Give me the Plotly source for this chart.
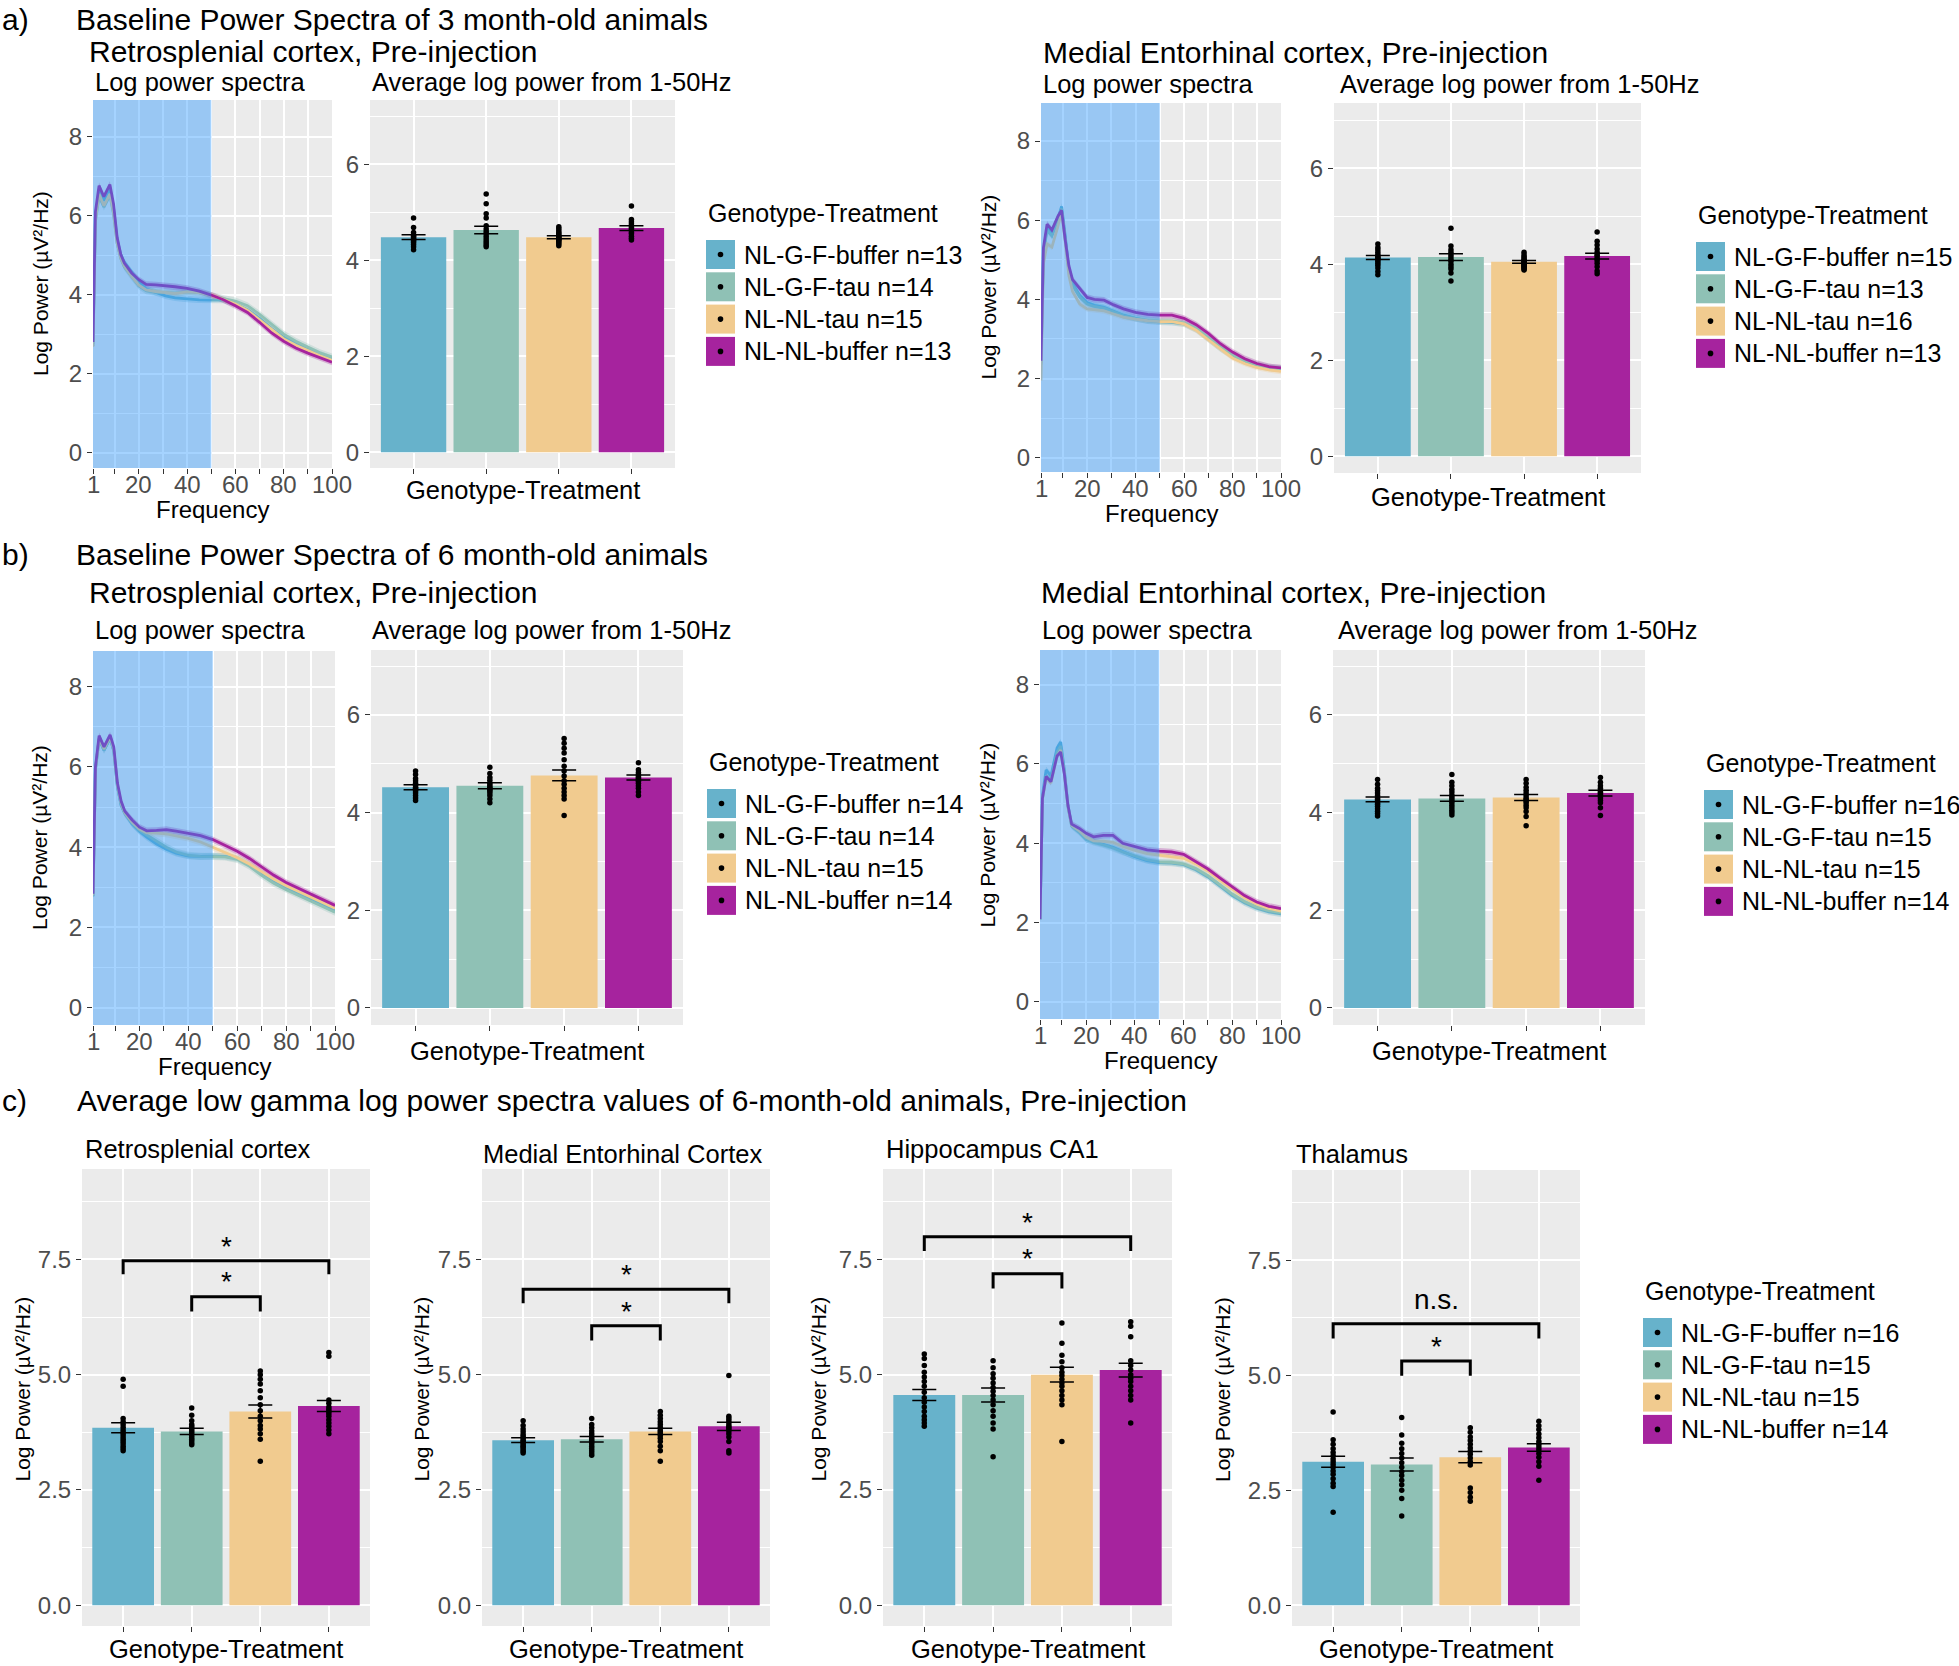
import plotly.graph_objects as go

W, H = 1959, 1666
FONT = "Liberation Sans, Arial, Helvetica, sans-serif"

# ---------------- data ----------------
GROUPS = ["NL-G-F-buffer", "NL-G-F-tau", "NL-NL-tau", "NL-NL-buffer"]
COLORS = ["#67B2CB", "#8FC1B5", "#F1CB8F", "#A6239E"]

FREQ = [1, 2, 3.5, 5.5, 8, 9.5, 11, 12.5, 14, 17, 20, 23, 27, 31, 35, 40, 45, 50,
        55, 60, 65, 70, 75, 80, 85, 90, 95, 100]
FREQ_TICKS = [1, 10, 20, 30, 40, 50, 60, 70, 80, 90, 100]
FREQ_LABELS = ["1", "", "20", "", "40", "", "60", "", "80", "", "100"]

# 3-month Retrosplenial spectra (order: GROUPS)
A_RSC_BUF_GF = [2.75, 6.0, 6.62, 6.38, 6.68, 6.2, 5.4, 5.02, 4.82, 4.58, 4.33, 4.15, 4.05, 3.97, 3.92, 3.89, 3.87, 3.86,
                3.86, 3.76, 3.62, 3.4, 3.14, 2.92, 2.76, 2.62, 2.49, 2.38]
A_RSC_TAU_GF = [2.7, 5.85, 6.5, 6.22, 6.52, 6.05, 5.3, 4.92, 4.7, 4.45, 4.22, 4.1, 4.06, 4.05, 4.04, 4.07, 4.05, 3.98,
                3.9, 3.84, 3.72, 3.5, 3.24, 3.0, 2.82, 2.67, 2.53, 2.42]
A_RSC_TAU_NL = [2.68, 5.88, 6.55, 6.25, 6.55, 6.08, 5.3, 4.92, 4.72, 4.46, 4.24, 4.12, 4.08, 4.05, 4.03, 4.07, 4.05, 3.99,
                3.88, 3.76, 3.6, 3.36, 3.1, 2.88, 2.72, 2.58, 2.45, 2.34]
A_RSC_BUF_NL = [2.8, 6.1, 6.76, 6.48, 6.79, 6.3, 5.45, 5.02, 4.8, 4.55, 4.38, 4.26, 4.25, 4.23, 4.2, 4.16, 4.09, 3.99,
                3.87, 3.72, 3.55, 3.3, 3.03, 2.82, 2.65, 2.52, 2.4, 2.29]
A_RSC_SPEC_SE = [0.08, 0.09, 0.07, 0.08]

# 3-month Medial Entorhinal spectra
A_ME_BUF_GF = [2.4, 5.2, 5.8, 5.65, 6.05, 6.35, 5.6, 4.75, 4.4, 4.1, 3.92, 3.85, 3.8, 3.7, 3.6, 3.52, 3.46, 3.43,
               3.42, 3.38, 3.24, 3.0, 2.76, 2.56, 2.42, 2.32, 2.27, 2.24]
A_ME_TAU_GF = [2.35, 5.15, 5.75, 5.6, 6.0, 6.3, 5.55, 4.72, 4.36, 4.06, 3.88, 3.82, 3.78, 3.68, 3.59, 3.52, 3.47, 3.45,
               3.45, 3.41, 3.27, 3.04, 2.8, 2.6, 2.46, 2.36, 2.29, 2.26]
A_ME_TAU_NL = [1.95, 4.9, 5.4, 5.32, 5.85, 6.2, 5.45, 4.6, 4.2, 3.88, 3.76, 3.74, 3.71, 3.63, 3.55, 3.5, 3.46, 3.44,
               3.44, 3.38, 3.22, 2.98, 2.74, 2.52, 2.38, 2.28, 2.22, 2.18]
A_ME_BUF_NL = [2.45, 5.3, 5.9, 5.75, 6.1, 6.25, 5.5, 4.85, 4.5, 4.28, 4.05, 4.0, 3.98, 3.86, 3.76, 3.67, 3.62, 3.6,
               3.6, 3.52, 3.36, 3.14, 2.88, 2.67, 2.5, 2.38, 2.3, 2.27]
A_ME_SPEC_SE = [0.08, 0.08, 0.07, 0.08]

# 6-month Retrosplenial spectra
B_RSC_BUF_GF = [2.78, 5.95, 6.7, 6.42, 6.72, 6.4, 5.5, 5.05, 4.85, 4.58, 4.4, 4.25, 4.08, 3.95, 3.85, 3.78, 3.77, 3.78,
                3.77, 3.72, 3.56, 3.34, 3.14, 2.98, 2.85, 2.72, 2.58, 2.43]
B_RSC_TAU_GF = [2.78, 5.92, 6.7, 6.42, 6.72, 6.4, 5.52, 5.05, 4.84, 4.6, 4.42, 4.3, 4.15, 4.0, 3.88, 3.8, 3.77, 3.77,
                3.76, 3.7, 3.53, 3.3, 3.1, 2.94, 2.8, 2.66, 2.52, 2.38]
B_RSC_TAU_NL = [2.8, 5.95, 6.72, 6.45, 6.75, 6.45, 5.55, 5.1, 4.86, 4.62, 4.45, 4.36, 4.35, 4.33, 4.28, 4.22, 4.13, 4.0,
                3.85, 3.74, 3.58, 3.38, 3.2, 3.04, 2.9, 2.76, 2.62, 2.48]
B_RSC_BUF_NL = [2.84, 6.0, 6.78, 6.5, 6.8, 6.5, 5.6, 5.15, 4.9, 4.68, 4.5, 4.41, 4.42, 4.44, 4.4, 4.35, 4.29, 4.19,
                4.04, 3.9, 3.72, 3.5, 3.3, 3.12, 2.98, 2.84, 2.7, 2.55]
B_RSC_SPEC_SE = [0.08, 0.09, 0.08, 0.08]

# 6-month Medial Entorhinal spectra
B_ME_BUF_GF = [2.07, 5.2, 5.85, 5.7, 6.4, 6.55, 5.85, 4.95, 4.45, 4.3, 4.1, 4.04, 3.98, 3.9, 3.79, 3.66, 3.56, 3.51,
               3.5, 3.46, 3.33, 3.15, 2.92, 2.68, 2.5, 2.36, 2.27, 2.22]
B_ME_TAU_GF = [2.07, 5.12, 5.7, 5.58, 6.3, 6.45, 5.8, 4.92, 4.43, 4.28, 4.1, 4.02, 3.96, 3.88, 3.78, 3.67, 3.58, 3.53,
               3.52, 3.48, 3.36, 3.18, 2.95, 2.72, 2.53, 2.39, 2.3, 2.25]
B_ME_TAU_NL = [2.08, 5.1, 5.65, 5.52, 6.2, 6.35, 5.75, 4.92, 4.45, 4.32, 4.15, 4.06, 4.05, 4.02, 3.92, 3.82, 3.74, 3.7,
               3.67, 3.62, 3.48, 3.3, 3.06, 2.84, 2.63, 2.47, 2.36, 2.29]
B_ME_BUF_NL = [2.09, 5.13, 5.68, 5.55, 6.2, 6.3, 5.75, 4.95, 4.48, 4.38, 4.25, 4.16, 4.2, 4.2, 4.0, 3.91, 3.83, 3.8,
               3.78, 3.72, 3.54, 3.35, 3.12, 2.9, 2.68, 2.52, 2.41, 2.35]
B_ME_SPEC_SE = [0.08, 0.08, 0.07, 0.08]

# Average log power 1-50 Hz bars
A_RSC_N = [13, 14, 15, 13]
A_RSC_MEAN = [4.48, 4.63, 4.48, 4.67]
A_RSC_SEM = [0.05, 0.08, 0.03, 0.05]
A_RSC_PTS = [
    [4.88, 4.68, 4.58, 4.52, 4.5, 4.47, 4.45, 4.42, 4.4, 4.37, 4.33, 4.28, 4.22],
    [5.38, 5.18, 4.97, 4.88, 4.72, 4.65, 4.6, 4.55, 4.5, 4.45, 4.4, 4.36, 4.32, 4.28],
    [4.7, 4.66, 4.62, 4.58, 4.55, 4.52, 4.5, 4.48, 4.46, 4.44, 4.42, 4.4, 4.37, 4.34, 4.3],
    [5.13, 4.85, 4.8, 4.76, 4.72, 4.68, 4.65, 4.62, 4.58, 4.55, 4.5, 4.46, 4.42],
]
A_ME_N = [15, 13, 16, 13]
A_ME_MEAN = [4.14, 4.15, 4.05, 4.17]
A_ME_SEM = [0.04, 0.07, 0.03, 0.06]
A_ME_PTS = [
    [4.42, 4.35, 4.3, 4.25, 4.2, 4.17, 4.14, 4.12, 4.1, 4.06, 4.02, 3.98, 3.92, 3.85, 3.78],
    [4.75, 4.38, 4.3, 4.25, 4.2, 4.15, 4.1, 4.06, 4.0, 3.95, 3.9, 3.82, 3.65],
    [4.25, 4.2, 4.16, 4.13, 4.1, 4.08, 4.06, 4.04, 4.02, 4.0, 3.98, 3.96, 3.94, 3.92, 3.9, 3.88],
    [4.67, 4.48, 4.4, 4.32, 4.25, 4.2, 4.17, 4.12, 4.08, 4.02, 3.95, 3.86, 3.8],
]
B_RSC_N = [14, 14, 15, 14]
B_RSC_MEAN = [4.52, 4.55, 4.76, 4.72]
B_RSC_SEM = [0.05, 0.06, 0.11, 0.05]
B_RSC_PTS = [
    [4.85, 4.78, 4.7, 4.65, 4.6, 4.56, 4.52, 4.5, 4.47, 4.44, 4.4, 4.35, 4.3, 4.25],
    [4.93, 4.8, 4.72, 4.66, 4.6, 4.56, 4.52, 4.5, 4.47, 4.44, 4.4, 4.35, 4.28, 4.2],
    [5.52, 5.42, 5.32, 5.22, 5.08, 4.95, 4.85, 4.75, 4.65, 4.58, 4.5, 4.42, 4.35, 4.28, 3.94],
    [5.02, 4.88, 4.82, 4.78, 4.75, 4.72, 4.7, 4.67, 4.64, 4.6, 4.55, 4.5, 4.42, 4.35],
]
B_ME_N = [16, 15, 15, 14]
B_ME_MEAN = [4.27, 4.29, 4.31, 4.40]
B_ME_SEM = [0.05, 0.06, 0.06, 0.06]
B_ME_PTS = [
    [4.68, 4.58, 4.5, 4.45, 4.4, 4.35, 4.3, 4.27, 4.24, 4.2, 4.17, 4.13, 4.08, 4.03, 3.98, 3.93],
    [4.78, 4.62, 4.55, 4.48, 4.42, 4.36, 4.32, 4.28, 4.24, 4.2, 4.15, 4.1, 4.05, 4.0, 3.95],
    [4.68, 4.6, 4.52, 4.46, 4.4, 4.35, 4.3, 4.27, 4.24, 4.2, 4.15, 4.1, 4.02, 3.92, 3.73],
    [4.72, 4.62, 4.55, 4.5, 4.46, 4.42, 4.4, 4.37, 4.34, 4.3, 4.25, 4.2, 4.1, 3.94],
]

# Low gamma, 6 months
C_N = [16, 15, 15, 14]
C_RSC_MEAN = [3.85, 3.77, 4.20, 4.32]
C_RSC_SEM = [0.11, 0.07, 0.14, 0.12]
C_RSC_PTS = [
    [4.9, 4.75, 4.05, 3.98, 3.92, 3.86, 3.8, 3.75, 3.7, 3.65, 3.6, 3.55, 3.5, 3.45, 3.4, 3.35],
    [4.28, 4.12, 4.0, 3.92, 3.88, 3.84, 3.8, 3.76, 3.72, 3.68, 3.64, 3.6, 3.56, 3.52, 3.48],
    [5.08, 5.0, 4.9, 4.8, 4.65, 4.5, 4.35, 4.22, 4.1, 4.0, 3.9, 3.82, 3.72, 3.6, 3.12],
    [5.48, 5.4, 4.45, 4.38, 4.3, 4.25, 4.2, 4.15, 4.1, 4.02, 3.95, 3.88, 3.8, 3.72],
]
C_ME_MEAN = [3.58, 3.60, 3.77, 3.88]
C_ME_SEM = [0.05, 0.06, 0.07, 0.09]
C_ME_PTS = [
    [4.0, 3.9, 3.82, 3.76, 3.7, 3.66, 3.62, 3.58, 3.55, 3.52, 3.48, 3.45, 3.42, 3.38, 3.34, 3.3],
    [4.05, 3.92, 3.85, 3.78, 3.72, 3.67, 3.62, 3.58, 3.54, 3.5, 3.45, 3.4, 3.35, 3.3, 3.25],
    [4.2, 4.12, 4.05, 3.98, 3.92, 3.86, 3.8, 3.76, 3.72, 3.68, 3.62, 3.55, 3.45, 3.35, 3.12],
    [4.98, 4.1, 4.05, 4.0, 3.95, 3.9, 3.86, 3.82, 3.78, 3.72, 3.65, 3.55, 3.35, 3.3],
]
C_CA1_MEAN = [4.56, 4.56, 5.00, 5.10]
C_CA1_SEM = [0.12, 0.15, 0.16, 0.15]
C_CA1_PTS = [
    [5.45, 5.35, 5.2, 5.05, 4.95, 4.85, 4.75, 4.62, 4.5, 4.4, 4.3, 4.2, 4.1, 4.02, 3.95, 3.88],
    [5.3, 5.15, 5.02, 4.92, 4.82, 4.72, 4.64, 4.55, 4.45, 4.35, 4.22, 4.1, 3.95, 3.82, 3.22],
    [6.12, 5.68, 5.42, 5.28, 5.15, 5.05, 4.98, 4.9, 4.82, 4.75, 4.65, 4.55, 4.45, 4.35, 3.55],
    [6.15, 6.05, 5.82, 5.3, 5.2, 5.1, 5.0, 4.92, 4.85, 4.75, 4.65, 4.55, 4.45, 3.95],
]
C_THAL_MEAN = [3.12, 3.06, 3.22, 3.43]
C_THAL_SEM = [0.12, 0.14, 0.12, 0.08]
C_THAL_PTS = [
    [4.2, 3.6, 3.5, 3.4, 3.32, 3.25, 3.18, 3.12, 3.06, 3.0, 2.92, 2.85, 2.75, 2.65, 2.58, 2.02],
    [4.08, 3.7, 3.52, 3.4, 3.3, 3.2, 3.1, 3.0, 2.9, 2.82, 2.72, 2.62, 2.5, 2.32, 1.94],
    [3.86, 3.76, 3.66, 3.58, 3.5, 3.42, 3.35, 3.28, 3.2, 3.12, 3.05, 2.55, 2.45, 2.35, 2.26],
    [4.0, 3.9, 3.82, 3.72, 3.64, 3.56, 3.5, 3.44, 3.38, 3.3, 3.22, 3.12, 3.02, 2.72],
]

# significance brackets: (group a, group b, bar height, leg end, label)
C_RSC_SIG = [(1, 4, 7.47, 7.18, "*"), (2, 3, 6.69, 6.37, "*")]
C_ME_SIG = [(1, 4, 6.85, 6.55, "*"), (2, 3, 6.06, 5.74, "*")]
C_CA1_SIG = [(1, 4, 7.99, 7.68, "*"), (2, 3, 7.19, 6.87, "*")]
C_THAL_SIG = [(1, 4, 6.12, 5.80, "n.s."), (2, 3, 5.31, 4.99, "*")]

# ---------------- figure ----------------
fig = go.Figure()
annotations = []
shapes = []
layout = dict(width=W, height=H, margin=dict(l=0, r=0, t=0, b=0, pad=0), autosize=False,
              paper_bgcolor="white", plot_bgcolor="#EBEBEB", showlegend=False,
              font=dict(family=FONT, color="black"))


def fx(p):
    return p / W


def fy(p):
    return 1 - p / H


def rgba(hexc, a):
    h = hexc.lstrip("#")
    return "rgba(%d,%d,%d,%.3f)" % (int(h[0:2], 16), int(h[2:4], 16), int(h[4:6], 16), a)


TICK_COLOR = "#4D4D4D"
BASE = dict(showgrid=True, gridcolor="white", gridwidth=1.6, zeroline=False, showline=False,
            ticks="outside", ticklen=5, tickwidth=1.3, tickcolor="#333333", automargin=False,
            tickfont=dict(size=24, color=TICK_COLOR, family=FONT), fixedrange=True)

axis_counter = [0]


def new_axes(xpx, ypx, xcfg, ycfg):
    axis_counter[0] += 1
    k = axis_counter[0]
    sx = "" if k == 1 else str(k)
    xc = dict(BASE); xc.update(xcfg)
    yc = dict(BASE); yc.update(ycfg)
    xc.update(domain=[fx(xpx[0]), fx(xpx[1])], anchor="y" + sx)
    yc.update(domain=[fy(ypx[1]), fy(ypx[0])], anchor="x" + sx)
    layout["xaxis" + sx] = xc
    layout["yaxis" + sx] = yc
    return "x" + sx, "y" + sx


def text(t, xp, yp, size, xanchor="left", yanchor="middle", angle=0):
    annotations.append(dict(text=t, x=fx(xp), y=fy(yp), xref="paper", yref="paper",
                            xanchor=xanchor, yanchor=yanchor, showarrow=False, textangle=angle,
                            font=dict(size=size, family=FONT, color="black")))


def spectrum_panel(xpx, ypx, yrange, series, se):
    xa, ya = new_axes(xpx, ypx,
                      dict(range=[1, 100], tickmode="array", tickvals=FREQ_TICKS, showticklabels=False),
                      dict(range=yrange, tickmode="linear", tick0=0, dtick=2,
                           minor=dict(dtick=1, showgrid=True, gridcolor="white", gridwidth=0.8)))
    for s, e, c in zip(series, se, COLORS):
        up = [v + e for v in s]
        lo = [v - e for v in s]
        fig.add_trace(go.Scatter(x=FREQ + FREQ[::-1], y=up + lo[::-1], fill="toself",
                                 fillcolor=rgba(c, 0.3), line=dict(width=0), mode="lines",
                                 hoverinfo="skip", xaxis=xa, yaxis=ya))
    for s, c in zip(series, COLORS):
        fig.add_trace(go.Scatter(x=FREQ, y=s, mode="lines", line=dict(color=c, width=2.8),
                                 xaxis=xa, yaxis=ya))
    shapes.append(dict(type="rect", xref=xa, yref=ya + " domain", x0=1, x1=50, y0=0, y1=1,
                       fillcolor="rgba(30,144,255,0.40)", line=dict(width=0), layer="above"))
    # x tick labels placed on the axis scale, tight under the panel as in the original
    for v, lab in zip(FREQ_TICKS, FREQ_LABELS):
        if lab:
            annotations.append(dict(text=lab, x=v, xref=xa, y=fy(ypx[1] + 16), yref="paper",
                                    xanchor="center", yanchor="middle", showarrow=False,
                                    font=dict(size=24, family=FONT, color=TICK_COLOR)))
    text("Frequency", (xpx[0] + xpx[1]) / 2, ypx[1] + 41, 24, xanchor="center")
    text("Log Power (µV²/Hz)", xpx[0] - 53, (ypx[0] + ypx[1]) / 2, 21, xanchor="center", angle=-90)


def bar_panel(xpx, ypx, yrange, mean, sem, pts, dtick, minor, fmt="", ytitle_dx=None, xtitle_dy=22):
    xa, ya = new_axes(xpx, ypx,
                      dict(range=[0.4, 4.6], tickmode="array", tickvals=[1, 2, 3, 4], showticklabels=False),
                      dict(range=yrange, tickmode="linear", tick0=0, dtick=dtick, tickformat=fmt,
                           minor=dict(dtick=minor, showgrid=True, gridcolor="white", gridwidth=0.8)))
    fig.add_trace(go.Bar(x=[1, 2, 3, 4], y=mean, width=0.9, marker=dict(color=COLORS, line=dict(width=0)),
                         error_y=dict(type="data", array=sem, color="black", thickness=1.5, width=12),
                         xaxis=xa, yaxis=ya))
    for i, p in enumerate(pts):
        fig.add_trace(go.Scatter(x=[i + 1] * len(p), y=p, mode="markers",
                                 marker=dict(color="black", size=5.5), xaxis=xa, yaxis=ya))
    text("Genotype-Treatment", (xpx[0] + xpx[1]) / 2, ypx[1] + xtitle_dy, 25.5, xanchor="center")
    if ytitle_dx is not None:
        text("Log Power (µV²/Hz)", xpx[0] - ytitle_dx, (ypx[0] + ypx[1]) / 2 - 8, 21, xanchor="center", angle=-90)
    return xa, ya


def legend(xp, yp_title, ns):
    text("Genotype-Treatment", xp, yp_title, 25)
    for i, (g, c, n) in enumerate(zip(GROUPS, COLORS, ns)):
        y0 = yp_title + 27 + i * 32.3
        shapes.append(dict(type="rect", xref="paper", yref="paper", x0=fx(xp), x1=fx(xp + 29),
                           y0=fy(y0 + 29), y1=fy(y0), fillcolor=c, line=dict(width=0), layer="above"))
        cx, cy = xp + 14.5, y0 + 14.5
        shapes.append(dict(type="circle", xref="paper", yref="paper", x0=fx(cx - 2.8), x1=fx(cx + 2.8),
                           y0=fy(cy + 2.8), y1=fy(cy - 2.8), fillcolor="black", line=dict(width=0),
                           layer="above"))
        text("%s n=%d" % (g, n), xp + 36, cy, 25)


def brackets(xa, ya, sig, star_off):
    for a, b, yt, yl, lab in sig:
        shapes.append(dict(type="path", xref=xa, yref=ya,
                           path="M %s,%s L %s,%s L %s,%s L %s,%s" % (a, yl, a, yt, b, yt, b, yl),
                           line=dict(color="black", width=3), layer="above"))
        off = star_off if lab == "*" else star_off + 0.2
        annotations.append(dict(text=lab, x=(a + b) / 2, y=yt + off, xref=xa, yref=ya, showarrow=False,
                                xanchor="center", yanchor="middle",
                                font=dict(size=28, family=FONT, color="black")))


# ---- row a ----
text("a)", 0, 19, 30)
text("Baseline Power Spectra of 3 month-old animals", 74, 19, 30)
text("Retrosplenial cortex, Pre-injection", 87, 51, 30)
text("Log power spectra", 93, 82, 25.5)
text("Average log power from 1-50Hz", 370, 82, 25.5)
spectrum_panel([93, 332], [100, 468], [-0.39, 8.93],
               [A_RSC_BUF_GF, A_RSC_TAU_GF, A_RSC_TAU_NL, A_RSC_BUF_NL], A_RSC_SPEC_SE)
bar_panel([370, 675], [100, 468], [-0.33, 7.34], A_RSC_MEAN, A_RSC_SEM, A_RSC_PTS, 2, 1)
legend(706, 213, A_RSC_N)

text("Medial Entorhinal cortex, Pre-injection", 1041, 53, 30)
text("Log power spectra", 1041, 84, 25.5)
text("Average log power from 1-50Hz", 1338, 84, 25.5)
spectrum_panel([1041, 1281], [103, 472], [-0.36, 8.96],
               [A_ME_BUF_GF, A_ME_TAU_GF, A_ME_TAU_NL, A_ME_BUF_NL], A_ME_SPEC_SE)
bar_panel([1334, 1641], [103, 473], [-0.35, 7.36], A_ME_MEAN, A_ME_SEM, A_ME_PTS, 2, 1, xtitle_dy=24)
legend(1696, 215, A_ME_N)

# ---- row b ----
text("b)", 0, 555, 30)
text("Baseline Power Spectra of 6 month-old animals", 74, 555, 30)
text("Retrosplenial cortex, Pre-injection", 87, 592, 30)
text("Log power spectra", 93, 630, 25.5)
text("Average log power from 1-50Hz", 370, 630, 25.5)
spectrum_panel([93, 335], [651, 1025], [-0.43, 8.89],
               [B_RSC_BUF_GF, B_RSC_TAU_GF, B_RSC_TAU_NL, B_RSC_BUF_NL], B_RSC_SPEC_SE)
bar_panel([371, 683], [650, 1025], [-0.35, 7.33], B_RSC_MEAN, B_RSC_SEM, B_RSC_PTS, 2, 1, xtitle_dy=26)
legend(707, 762, B_RSC_N)

text("Medial Entorhinal cortex, Pre-injection", 1039, 592, 30)
text("Log power spectra", 1040, 630, 25.5)
text("Average log power from 1-50Hz", 1336, 630, 25.5)
spectrum_panel([1040, 1281], [650, 1019], [-0.43, 8.87],
               [B_ME_BUF_GF, B_ME_TAU_GF, B_ME_TAU_NL, B_ME_BUF_NL], B_ME_SPEC_SE)
bar_panel([1333, 1645], [650, 1025], [-0.35, 7.33], B_ME_MEAN, B_ME_SEM, B_ME_PTS, 2, 1, xtitle_dy=26)
legend(1704, 763, B_ME_N)

# ---- row c ----
text("c)", 0, 1100, 30)
text("Average low gamma log power spectra values of 6-month-old animals, Pre-injection", 75, 1100, 30)
text("Retrosplenial cortex", 83, 1149, 25.5)
text("Medial Entorhinal Cortex", 481, 1154, 25.5)
text("Hippocampus CA1", 884, 1149, 25.5)
text("Thalamus", 1294, 1154, 25.5)
C_YR = [-0.45, 9.46]
xa, ya = bar_panel([82, 370], [1169, 1626], C_YR, C_RSC_MEAN, C_RSC_SEM, C_RSC_PTS, 2.5, 1.25, ".1f", 60, 23)
brackets(xa, ya, C_RSC_SIG, 0.32)
xa, ya = bar_panel([482, 770], [1169, 1626], C_YR, C_ME_MEAN, C_ME_SEM, C_ME_PTS, 2.5, 1.25, ".1f", 61, 23)
brackets(xa, ya, C_ME_SIG, 0.32)
xa, ya = bar_panel([883, 1172], [1169, 1626], C_YR, C_CA1_MEAN, C_CA1_SEM, C_CA1_PTS, 2.5, 1.25, ".1f", 65, 23)
brackets(xa, ya, C_CA1_SIG, 0.32)
xa, ya = bar_panel([1292, 1580], [1170, 1626], C_YR, C_THAL_MEAN, C_THAL_SEM, C_THAL_PTS, 2.5, 1.25, ".1f", 70, 23)
brackets(xa, ya, C_THAL_SIG, 0.32)
legend(1643, 1291, C_N)

layout["annotations"] = annotations
layout["shapes"] = shapes
fig.update_layout(**layout)
fig.write_html("out.html", config={"responsive": False, "displayModeBar": False},
               post_script="document.body.style.margin='0px';document.body.style.padding='0px';"
                           "document.body.style.overflow='hidden';")
